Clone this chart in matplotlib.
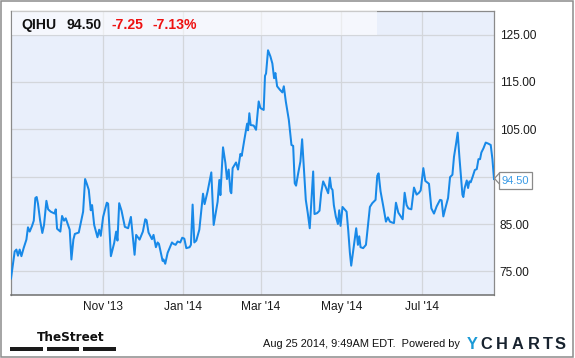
import matplotlib
matplotlib.use("Agg")
import matplotlib.pyplot as plt
import matplotlib.font_manager as fm
from matplotlib.patches import Rectangle
from matplotlib.lines import Line2D
import pandas as pd

# ---------------- data ----------------
ticker = "QIHU"
last_price = "94.50"
change = "-7.25"
change_pct = "-7.13%"
timestamp = "Aug 25 2014, 9:49AM EDT.  Powered by"
start_date = "2013-08-23"
end_date = "2014-08-25"

day_offsets = [
    0, 2.8, 4.1, 5.3, 6.6, 7.9, 9.6, 11.7, 12.9, 14.2, 16.0, 17.3, 18.5, 19.5, 20.5,
    22.1, 23.8, 25.1, 26.9, 28.2, 30.2, 33.2, 34.0, 35.0, 37.5, 38.8, 40.3, 41.6, 43.4,
    44.6, 45.9, 47.4, 48.5, 51.5, 53.5, 54.8, 56.3, 57.6, 59.1, 60.6, 61.6, 63.2, 65.7,
    67.0, 68.2, 70.0, 72.8, 73.8, 75.9, 78.4, 79.9, 80.9, 82.2, 84.0, 86.5, 89.0, 91.1,
    93.9, 95.1, 97.7, 100.2, 102.0, 103.0, 104.5, 107.1, 108.3, 110.1, 111.4, 112.4,
    115.2, 115.9, 117.2, 119.0, 122.3, 123.5, 125.1, 126.6, 128.6, 130.1, 131.7, 133.2,
    135.7, 136.7, 138.0, 139.3, 140.8, 143.1,
    145.9, 147.1, 149.4, 152.2, 154.0, 157.0, 158.3, 159.1, 161.1, 162.9, 164.1, 165.4,
    166.7, 167.4, 168.4, 171.0, 172.5, 174.3, 175.3, 177.3, 179.4, 180.1, 181.1, 182.1,
    184.4, 186.2, 188.2, 189.5, 192.0, 193.0, 193.8, 195.3, 197.1, 198.6, 199.9, 200.9,
    202.2, 204.2, 206.2, 207.3, 208.8, 211.1, 213.1, 214.4, 215.6, 216.6, 218.2, 219.9,
    221.2, 222.5, 224.0, 225.5, 227.0,
    229.6, 230.6, 232.6, 234.4, 235.7, 237.2, 239.0, 241.0, 242.3, 243.3, 244.3, 245.3,
    246.8, 248.4, 249.4, 250.4, 251.9, 255.0, 256.2, 257.5, 258.5, 260.5, 262.3, 263.6,
    264.6, 265.6, 267.6, 269.7, 271.2, 272.7, 274.5, 277.0, 278.3, 279.3, 280.8, 282.9,
    284.9, 286.4, 287.9, 289.7, 291.0, 292.5, 294.3, 296.0, 297.6, 299.1, 300.6, 301.9,
    304.2, 306.2, 308.2, 310.0, 311.3, 313.3, 314.8, 317.6, 319.4, 321.4, 323.4, 326.0,
    327.2, 328.5, 330.3, 332.1, 333.6, 335.4, 336.6, 338.2, 339.4, 340.7, 341.7, 343.0,
    343.7, 344.7, 346.3, 347.3, 348.3, 349.3, 350.8, 352.4, 353.9, 355.2, 356.4, 357.4,
    359.0, 360.7, 362.5, 364.5, 365.8, 367.0,
]
prices = [
    73.5, 79.2, 79.6, 78.3, 79.6, 78.2, 79.9, 81.7, 84.3, 83.4, 84.6, 85.7, 90.5, 90.7, 89.3,
    85.8, 83.1, 84.8, 89.9, 88.1, 87.6, 87.2, 88.1, 84.0, 83.4, 86.7, 85.7, 86.2, 84.8,
    83.8, 77.5, 81.7, 82.9, 83.2, 85.8, 87.6, 94.5, 93.5, 92.2, 87.9, 89.0, 84.8, 82.2,
    83.8, 82.5, 86.5, 89.5, 89.3, 78.2, 81.0, 83.4, 81.5, 89.4, 87.8, 84.4, 84.1, 86.5,
    78.5, 82.7, 81.7, 83.4, 86.0, 85.8, 83.2, 81.8, 82.7, 80.1, 81.1, 80.8,
    77.2, 77.5, 76.6, 78.9, 81.1, 80.8, 80.6, 81.3, 81.1, 82.1, 81.9, 79.9,
    80.1, 80.6, 89.1, 81.1, 81.5, 83.8,
    91.4, 89.2, 91.9, 95.9, 84.8, 89.7, 94.3, 91.1, 101.2, 97.9, 94.5, 96.5,
    91.9, 91.5, 96.8, 98.0, 96.5, 99.8, 99.4, 102.8, 106.2, 104.8, 108.4, 105.9,
    105.8, 104.9, 110.9, 109.5, 109.1, 116.3, 116.8, 121.7, 120.4, 118.9, 115.8, 116.9,
    114.1, 113.4, 112.8, 114.1, 110.9, 107.0, 101.7, 101.5, 93.6, 93.1, 95.7, 98.2,
    102.9, 97.1, 90.1, 87.3, 84.1,
    96.1, 87.1, 87.3, 87.8, 91.6, 94.0, 92.9, 91.5, 94.8, 92.6, 92.2, 89.0,
    86.6, 85.0, 87.9, 84.6, 88.6, 87.6, 83.8, 78.9, 76.2, 80.3, 84.1, 80.6,
    82.4, 80.1, 79.9, 80.6, 84.5, 88.6, 89.4, 90.1, 95.2, 95.7, 91.9, 88.7,
    85.5, 86.4, 85.5, 85.3, 85.2, 89.5, 87.4, 86.7, 86.0, 91.6, 89.0, 88.3,
    88.1, 92.7, 91.2, 91.6, 92.1, 96.8, 94.1, 93.5, 88.3, 87.2, 88.7, 90.1,
    90.0, 86.6, 88.6, 90.5, 94.9, 95.4, 99.2, 102.0, 104.3, 99.2, 95.7, 91.2,
    90.7, 92.6, 94.2, 92.6, 94.0, 93.8, 95.0, 96.4, 96.6, 98.7, 98.7, 100.1,
    101.0, 102.2, 102.0, 101.7, 98.7, 94.5,
]
y_ticks = [75, 85, 95, 105, 115, 125]
y_labels = ["75.00", "85.00", "", "105.00", "115.00", "125.00"]
x_ticks = ["2013-11-01", "2014-01-01", "2014-03-01", "2014-05-01", "2014-07-01"]
x_labels = ["Nov '13", "Jan '14", "Mar '14", "May '14", "Jul '14"]

# ---------------- figure ----------------
W, H = 575, 358
fig = plt.figure(figsize=(W / 100, H / 100), dpi=100)
fig.patch.set_facecolor("white")
plt.rcParams["font.family"] = ["Liberation Sans", "DejaVu Sans"]

def fx(px):
    return px / W

def fy(py):
    return (H - py) / H

ax = fig.add_axes([fx(11), fy(295), fx(494) - fx(11), fy(11) - fy(295)])
ax.set_facecolor("#e9effb")

dates = pd.Timestamp(start_date) + pd.to_timedelta(day_offsets, unit="D")
line_color = "#1889e8"
ax.plot(dates, prices, color=line_color, lw=1.45, zorder=4, solid_joinstyle="round")

ax.set_xlim(pd.Timestamp(start_date), pd.Timestamp(end_date))
ax.set_ylim(70, 130)

ax.yaxis.tick_right()
ax.set_yticks(y_ticks)
ax.set_yticklabels(y_labels)
ax.set_xticks(pd.to_datetime(x_ticks))
ax.set_xticklabels(x_labels)
ax.tick_params(axis="both", length=0, labelsize=8.6, colors="#1a1a1a")
ax.tick_params(axis="y", pad=4)
ax.tick_params(axis="x", pad=4.5)
ax.grid(True, color="#d3d6db", lw=0.9, zorder=1)
ax.set_axisbelow(True)
for s in ["top", "left", "right"]:
    ax.spines[s].set_color("#8a8a8a")
    ax.spines[s].set_linewidth(0.9)
ax.spines["bottom"].set_color("#6e6e6e")
ax.spines["bottom"].set_linewidth(1.1)

# header band
fig.patches.append(Rectangle((fx(11.5), fy(35)), fx(377) - fx(11.5), fy(11.5) - fy(35),
                             transform=fig.transFigure, facecolor="white", alpha=0.55,
                             edgecolor="none", zorder=3))
base = fy(29)
fig.text(fx(21.5), base, ticker, fontsize=10.1, fontweight="bold", color="#111111", va="baseline")
fig.text(fx(66.5), base, last_price, fontsize=10.1, fontweight="bold", color="#111111", va="baseline")
fig.text(fx(111.5), base, change, fontsize=10.1, fontweight="bold", color="#ee1111", va="baseline")
fig.text(fx(152.5), base, change_pct, fontsize=10.1, fontweight="bold", color="#ee1111", va="baseline")

# last price label
fig.patches.append(Rectangle((fx(499), fy(188.5)), fx(531.5) - fx(499), fy(171.5) - fy(188.5),
                             transform=fig.transFigure, facecolor="white",
                             edgecolor="#8a8a8a", lw=0.9, zorder=5))
fig.lines.append(Line2D([fx(499), fx(494.5), fx(499)], [fy(173.5), fy(178.5), fy(183.5)],
                        transform=fig.transFigure, color="#8a8a8a", lw=0.9, zorder=6))
fig.text(fx(502), fy(184.5), last_price, fontsize=8.0, color="#3a9be6", va="baseline", zorder=7)

# footer
cond = [f for f in fm.fontManager.ttflist
        if f.name == "DejaVu Sans" and f.stretch not in ("normal", 500) and "Bold" in f.fname]
if cond:
    fig.text(fx(36.5), fy(340.7), "TheStreet", fontsize=9.6, fontweight="bold",
             family="DejaVu Sans", fontstretch="condensed", color="#111111", va="baseline")
else:
    fig.text(fx(36.5), fy(340.7), "TheStreet", fontsize=9.2, fontweight="bold",
             color="#111111", va="baseline")
for x0, x1 in [(10, 42.7), (46.7, 79), (83.3, 115.7)]:
    fig.patches.append(Rectangle((fx(x0), fy(350.5)), fx(x1) - fx(x0), fy(347.3) - fy(350.5),
                                 transform=fig.transFigure, facecolor="#1a1a1a", edgecolor="none"))

fig.text(fx(460), fy(347.3), timestamp, fontsize=7.9, color="#111111", ha="right", va="baseline")

ychars = ["Y", "C", "H", "A", "R", "T", "S"]
ycenters = [472, 486.5, 502.3, 518, 534, 547.5, 559.8]
for ch, cx in zip(ychars, ycenters):
    fig.text(fx(cx), fy(349.3), ch, fontsize=11.8, fontweight="bold", ha="center", va="baseline",
             color="#1b9ad6" if ch == "Y" else "#17222e")

# outer border
fig.patches.append(Rectangle((fx(1), fy(356.8)), fx(573) - fx(1), fy(1) - fy(356.8),
                             transform=fig.transFigure, facecolor="none",
                             edgecolor="#8c8c8c", lw=1.1))

fig.savefig("out.png", dpi=100, facecolor="white")
